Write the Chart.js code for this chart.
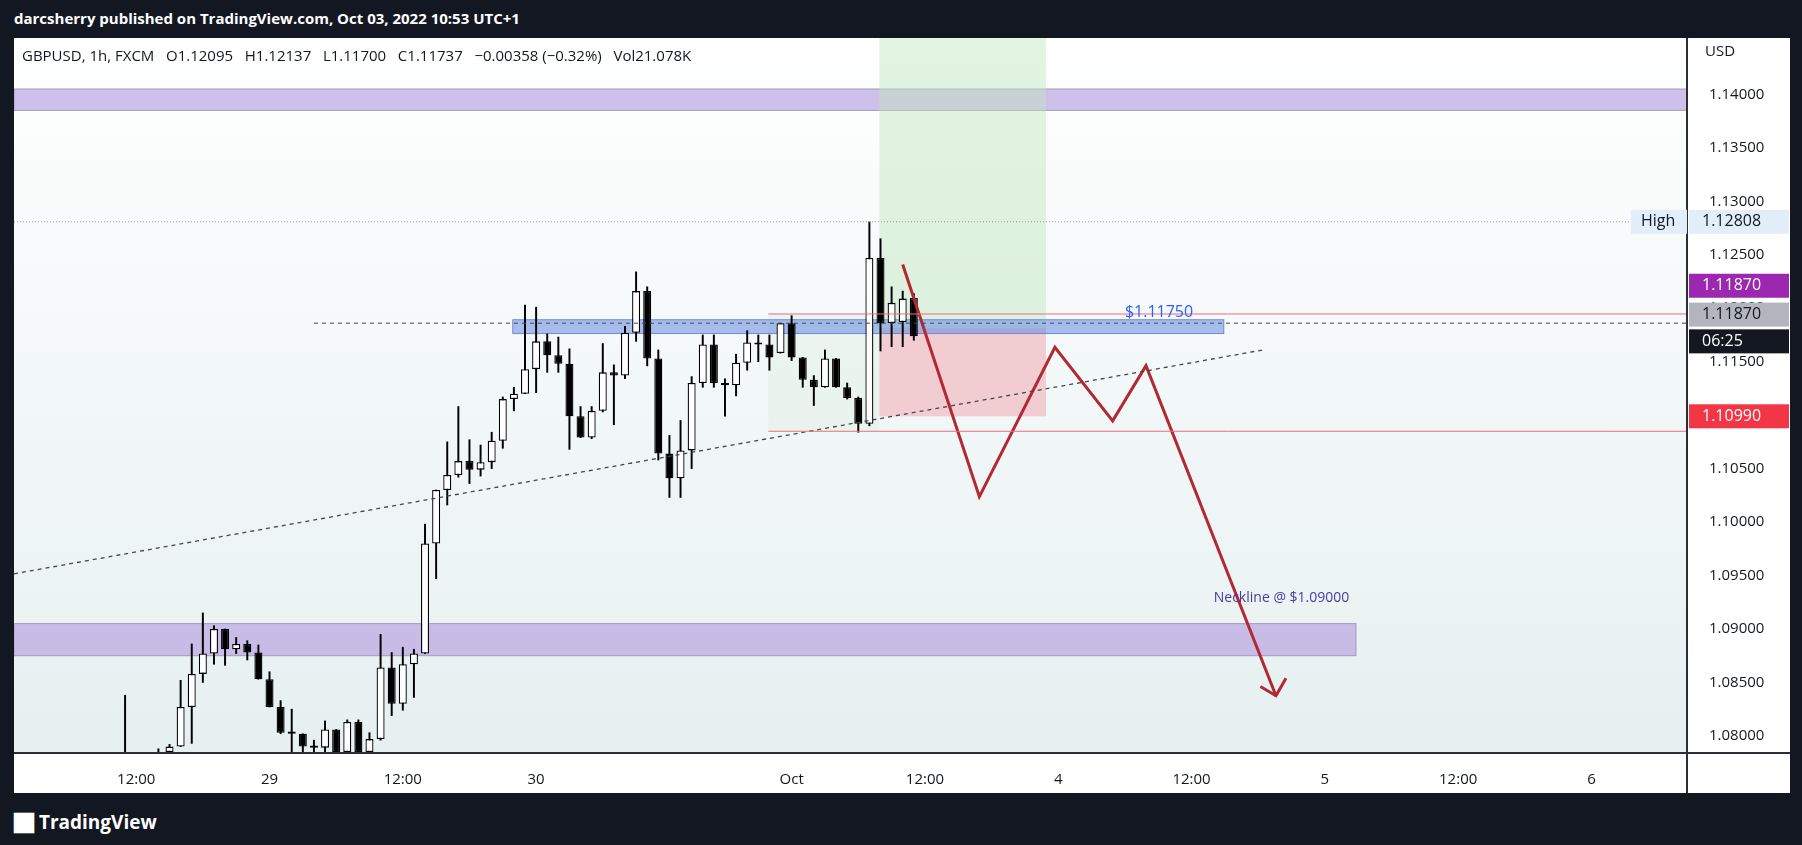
<!DOCTYPE html>
<html>
<head>
<meta charset="utf-8">
<script src="https://cdn.jsdelivr.net/npm/chart.js@4.4.0/dist/chart.umd.min.js"></script>
<style>
  body { margin: 0; background: #131722; width: 1802px; height: 845px; overflow: hidden; font-family: "Open Sans", sans-serif; }
  #top { position: absolute; left: 14px; top: 8px; color: #fff; font-weight: bold; font-size: 15px; }
  #panel { position: absolute; left: 14px; top: 38px; width: 1776px; height: 755px; background: #fff; }
  #logo { position: absolute; left: 14px; top: 808px; color: #fff; font-size: 19px; font-weight: bold; }
</style>
</head>
<body>
<div id="top">darcsherry published on TradingView.com, Oct 03, 2022 10:53 UTC+1</div>
<div id="panel"><canvas id="c" width="1776" height="755"></canvas></div>
<div id="logo"><span style="font-size:20px">&#x2B1B;&#xFE0E;</span> TradingView</div>
<script>
// hourly bars, index 0 = Sep 28 12:00
const startIndex = -1;
const opens  = [1.0780,1.0770,1.0772,1.0778,1.0785,1.0790,1.0827,1.0858,1.0877,1.0900,1.0881,1.0886,1.0878,1.0853,1.0827,1.0804,1.0802,1.0791,1.0789,1.0806,1.0785,1.0813,1.0785,1.0797,1.0864,1.0830,1.0867,1.0877,1.0980,1.1030,1.1044,1.1057,1.1049,1.1056,1.1076,1.1115,1.1120,1.1143,1.1169,1.1156,1.1148,1.1099,1.1079,1.1104,1.1140,1.1137,1.1177,1.1216,1.1153,1.1064,1.1041,1.1067,1.1130,1.1166,1.1130,1.1128,1.1149,1.1168,1.1166,1.1158,1.1186,1.1154,1.1133,1.1126,1.1153,1.1126,1.1116,1.1092,1.1247,1.1186,1.1187,1.12095];
const closes = [1.0785,1.0772,1.0778,1.0785,1.0790,1.0827,1.0858,1.0877,1.0900,1.0881,1.0886,1.0878,1.0853,1.0827,1.0803,1.0802,1.0790,1.0789,1.0806,1.0785,1.0813,1.0785,1.0797,1.0864,1.0830,1.0867,1.0877,1.0980,1.1030,1.1044,1.1057,1.1049,1.1056,1.1076,1.1115,1.1120,1.1143,1.1169,1.1156,1.1148,1.1099,1.1079,1.1104,1.1140,1.1137,1.1177,1.1216,1.1153,1.1064,1.1041,1.1067,1.1130,1.1166,1.1130,1.1128,1.1149,1.1168,1.1166,1.1154,1.1186,1.1154,1.1133,1.1126,1.1153,1.1126,1.1116,1.1092,1.1247,1.1186,1.1205,1.1209,1.11737];
const highs  = [1.0838,1.0775,1.0780,1.0788,1.0792,1.0852,1.0886,1.0915,1.0903,1.0900,1.0892,1.0889,1.0885,1.0860,1.0833,1.0825,1.0802,1.0796,1.0814,1.0806,1.0815,1.0815,1.0803,1.0895,1.0878,1.0883,1.0881,1.0998,1.1030,1.1075,1.1108,1.1077,1.1072,1.1084,1.1117,1.1126,1.1203,1.1201,1.1176,1.1173,1.1162,1.1108,1.1108,1.1167,1.1147,1.1183,1.1234,1.1220,1.1161,1.1081,1.1095,1.1136,1.1175,1.1175,1.1134,1.1157,1.1179,1.1175,1.1175,1.1186,1.1193,1.1154,1.1137,1.1161,1.1153,1.1130,1.1117,1.12808,1.1265,1.1220,1.1216,1.12137];
const lows   = [1.0770,1.0765,1.0768,1.0775,1.0780,1.0790,1.0793,1.0850,1.0867,1.0866,1.0877,1.0871,1.0853,1.0827,1.0802,1.0784,1.0785,1.0785,1.0785,1.0782,1.0782,1.0782,1.0782,1.0796,1.0819,1.0824,1.0836,1.0877,1.0947,1.1016,1.1042,1.1036,1.1043,1.1050,1.1069,1.1104,1.1120,1.1121,1.1140,1.1140,1.1068,1.1079,1.1078,1.1103,1.1091,1.1134,1.1169,1.1146,1.1058,1.1023,1.1023,1.1050,1.1126,1.1126,1.1099,1.1118,1.1142,1.1150,1.1142,1.1158,1.1151,1.1126,1.1109,1.1126,1.1126,1.1115,1.1084,1.1090,1.1160,1.1164,1.1164,1.1170];
const yTicks = [1.08,1.085,1.09,1.095,1.10,1.105,1.11,1.115,1.12,1.125,1.13,1.135,1.14];
const timeTickPos = [0,12,24,36,59,71,83,95,107,119,131];
const timeTickLabels = ['12:00','29','12:00','30','Oct','12:00','4','12:00','5','12:00','6'];
// drawn projection path
const pathX = [69,75.9,82.7,87.9,90.9,102.6];
const pathY = [1.12409,1.10237,1.11634,1.10946,1.11462,1.08376];
const headX = [101.2,102.6,103.5];
const headY = [1.08462,1.08376,1.08538];
const trendX = [-11,101.6], trendY = [1.09516,1.11613];
const levelBreak = 1.1186, levelHigh = 1.12808, stopLine = 1.11946, targetLine = 1.10849;
const entry = 1.11817, target = 1.10989;
const blueZone = [1.11763,1.11892], topZone = [1.1385,1.1405], neckZone = [1.0875,1.0905];
const xMin = -11, xMax = 139.6, yMin = 1.0784, yMax = 1.14312;

const idx = opens.map((_, i) => i + startIndex);
const up = opens.map((o, i) => closes[i] >= o);
const pts = (xs, ys) => xs.map((x, i) => ({x: x, y: ys[i]}));

const overlay = {
  id: 'overlay',
  beforeDatasetsDraw(chart) {
    const {ctx, chartArea: a, scales: {x, y}} = chart;
    const g = ctx.createLinearGradient(0, 0, 0, a.bottom);
    g.addColorStop(0, '#ffffff'); g.addColorStop(1, '#e6f0f0');
    ctx.save();
    ctx.fillStyle = g; ctx.fillRect(a.left, 0, a.width, a.bottom);
    ctx.beginPath(); ctx.rect(a.left, 0, a.width, a.bottom); ctx.clip();
    const box = (x0, x1, p0, p1, fill, stroke) => {
      const l = x.getPixelForValue(x0), r = x.getPixelForValue(x1);
      const t = p1 === null ? 0 : y.getPixelForValue(p1), b = y.getPixelForValue(p0);
      ctx.fillStyle = fill; ctx.fillRect(l, t, r - l, b - t);
      if (stroke) { ctx.strokeStyle = stroke; ctx.lineWidth = 1; ctx.strokeRect(l, t, r - l, b - t); }
    };
    box(xMin, xMax, topZone[0], topZone[1], 'rgba(185,165,225,0.7)', '#a39ab8');
    box(xMin, 109.8, neckZone[0], neckZone[1], 'rgba(185,165,225,0.7)', '#a39ab8');
    box(56.9, 66.9, targetLine, stopLine, 'rgba(225,240,230,0.5)');
    box(66.9, 81.9, entry, null, 'rgba(190,230,190,0.45)');
    box(66.9, 81.9, target, entry, 'rgba(240,150,160,0.45)');
    box(33.9, 97.9, blueZone[0], blueZone[1], 'rgba(100,140,225,0.55)', '#6f8ad0');
    ctx.restore();
  },
  afterDraw(chart) {
    const {ctx, chartArea: a, scales: {x, y}} = chart;
    ctx.save();
    ctx.strokeStyle = '#2a2e39'; ctx.lineWidth = 2;
    ctx.beginPath(); ctx.moveTo(a.right, 0); ctx.lineTo(a.right, chart.height);
    ctx.moveTo(0, a.bottom); ctx.lineTo(chart.width, a.bottom); ctx.stroke();
    ctx.font = '15px "Open Sans"'; ctx.textBaseline = 'middle';
    ctx.fillStyle = '#131722';
    ctx.fillText('GBPUSD, 1h, FXCM   O1.12095   H1.12137   L1.11700   C1.11737   \u22120.00358 (\u22120.32%)   Vol21.078K', 8, 19);
    ctx.fillText('USD', a.right + 18, 14);
    ctx.fillStyle = '#2962ff'; ctx.font = '16px "Open Sans"';
    ctx.fillText('$1.11750', x.getPixelForValue(89), y.getPixelForValue(1.1196));
    ctx.fillStyle = '#4a3aa8'; ctx.font = '14px "Open Sans"';
    ctx.fillText('Neckline @ $1.09000', x.getPixelForValue(97), y.getPixelForValue(1.0929));
    const tag = (p, text, bg, fg, w) => {
      const py = y.getPixelForValue(p);
      ctx.fillStyle = bg; ctx.fillRect(a.right + 2, py - 12, w || 100, 24);
      ctx.fillStyle = fg; ctx.font = '16px "Open Sans"';
      ctx.fillText(text, a.right + 15, py);
    };
    tag(levelHigh, '1.12808', '#e3eefb', '#131722');
    const hy = y.getPixelForValue(levelHigh);
    ctx.fillStyle = '#e3eefb'; ctx.fillRect(a.right - 56, hy - 12, 56, 24);
    ctx.fillStyle = '#131722'; ctx.fillText('High', a.right - 46, hy);
    tag(1.12210, '1.11870', '#9c27b0', '#ffffff');
    tag(1.11940, '1.11870', '#b2b5be', '#131722');
    tag(1.11690, '06:25', '#131722', '#ffffff');
    tag(target, '1.10990', '#f23645', '#ffffff');
    ctx.restore();
  }
};

const lineDs = (data, color, width, dash) => ({
  type: 'line', data: data, borderColor: color, borderWidth: width, borderDash: dash || [],
  pointRadius: 0, fill: false, tension: 0, order: 0
});

new Chart(document.getElementById('c'), {
  data: {
    datasets: [
      lineDs(pts([xMin, xMax], [levelHigh, levelHigh]), '#9598a1', 1, [1, 2]),
      lineDs(pts([16, xMax], [levelBreak, levelBreak]), '#434651', 1, [4, 4]),
      lineDs(pts([56.9, xMax], [stopLine, stopLine]), '#f06a80', 1),
      lineDs(pts([56.9, xMax], [targetLine, targetLine]), '#f06a80', 1),
      lineDs(pts(trendX, trendY), '#434651', 1.3, [4, 4]),
      {
        type: 'bar', data: idx.map((x, i) => ({x: x, y: [lows[i], highs[i]]})),
        backgroundColor: '#000', barThickness: 1.3, grouped: false, order: 3
      },
      {
        type: 'bar', data: idx.map((x, i) => ({x: x, y: [opens[i], closes[i] === opens[i] ? closes[i] + 0.00005 : closes[i]]})),
        backgroundColor: up.map(u => u ? '#ffffff' : '#000000'), borderColor: '#000', borderWidth: 1.3,
        borderSkipped: false, barPercentage: 0.72, categoryPercentage: 1, grouped: false, order: 2
      },
      lineDs(pts(pathX, pathY), '#b22833', 3),
      lineDs(pts(headX, headY), '#b22833', 3)
    ]
  },
  options: {
    responsive: false, animation: false,
    layout: { padding: 0 },
    plugins: { legend: { display: false }, tooltip: { enabled: false } },
    scales: {
      x: {
        type: 'linear', min: xMin, max: xMax, offset: false,
        grid: { display: false }, border: { display: false },
        afterBuildTicks: s => { s.ticks = timeTickPos.map(v => ({value: v})); },
        afterFit: s => { s.height = 40; },
        ticks: {
          autoSkip: false, maxRotation: 0, color: '#131722', font: { size: 15, family: 'Open Sans' }, padding: 10,
          callback: v => timeTickLabels[timeTickPos.indexOf(v)]
        }
      },
      y: {
        position: 'right', min: yMin, max: yMax,
        grid: { display: false }, border: { display: false },
        afterBuildTicks: s => { s.ticks = yTicks.map(v => ({value: v})); },
        afterFit: s => { s.width = 103; },
        ticks: { color: '#131722', font: { size: 15, family: 'Open Sans' }, padding: 14, callback: v => v.toFixed(5) }
      }
    }
  },
  plugins: [overlay]
});
</script>
</body>
</html>
